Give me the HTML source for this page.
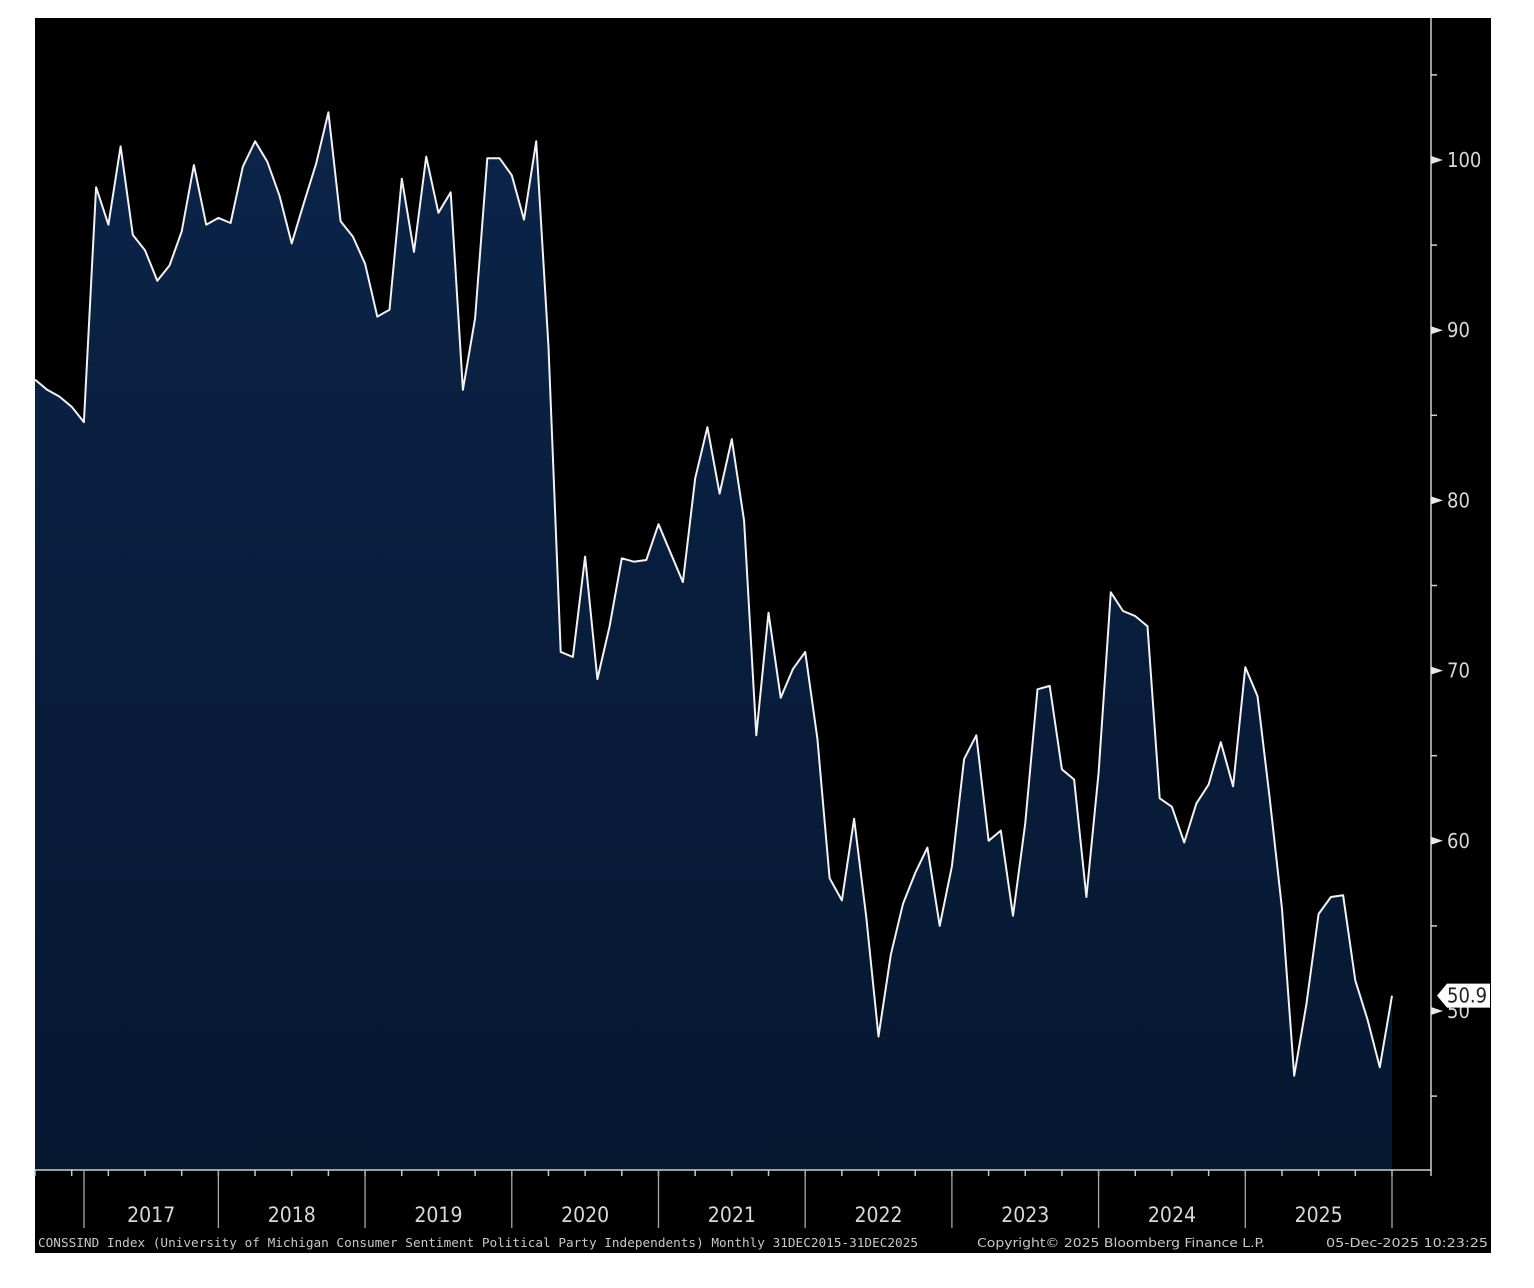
<!DOCTYPE html>
<html><head><meta charset="utf-8"><style>
html,body{margin:0;padding:0;background:#fff;width:1534px;height:1288px;overflow:hidden}
svg{display:block}
text{font-family:"DejaVu Sans Condensed","Liberation Sans",sans-serif}
</style></head><body>
<svg id="chart" width="1534" height="1288" viewBox="0 0 1534 1288">
<defs><linearGradient id="fillg" x1="0" y1="0" x2="0" y2="1"><stop offset="0" stop-color="#0b2448"/><stop offset="1" stop-color="#061730"/></linearGradient></defs>
<rect x="35" y="18" width="1456" height="1235" fill="#000"/>
<g id="plot"></g>
<text x="38" y="1247" font-size="12.5" fill="#c8c8c8" style="font-family:'DejaVu Sans Mono','Liberation Mono',monospace" textLength="880" lengthAdjust="spacingAndGlyphs">CONSSIND Index (University of Michigan Consumer Sentiment Political Party Independents) Monthly 31DEC2015-31DEC2025</text>
<text x="977" y="1247" font-size="12.5" fill="#c8c8c8" textLength="288" lengthAdjust="spacingAndGlyphs">Copyright© 2025 Bloomberg Finance L.P.</text>
<text x="1326" y="1247" font-size="12.5" fill="#c8c8c8" textLength="162" lengthAdjust="spacingAndGlyphs">05-Dec-2025 10:23:25</text>
</svg>
<script>
// monthly values, Sep 2016 .. Dec 2025
const values = [87.1,86.5,86.1,85.5,84.6,98.4,96.2,100.8,95.6,94.7,92.9,93.8,95.8,99.7,96.2,96.6,96.3,99.6,101.1,99.9,97.9,95.1,97.5,99.8,102.8,96.4,95.5,93.9,90.8,91.2,98.9,94.6,100.2,96.9,98.1,86.5,90.7,100.1,100.1,99.1,96.5,101.1,89.0,71.1,70.8,76.7,69.5,72.6,76.6,76.4,76.5,78.6,76.9,75.2,81.3,84.3,80.4,83.6,78.8,66.2,73.4,68.4,70.1,71.1,66.0,57.8,56.5,61.3,55.5,48.5,53.3,56.3,58.1,59.6,55.0,58.5,64.8,66.2,60.0,60.6,55.6,61.0,68.9,69.1,64.2,63.6,56.7,64.0,74.6,73.5,73.2,72.6,62.5,62.0,59.9,62.2,63.3,65.8,63.2,70.2,68.5,62.5,56.0,46.2,50.4,55.7,56.7,56.8,51.8,49.5,46.7,50.9];
const yMajorTicks = [100,90,80,70,60,50];
const yMinorTicks = [105,95,85,75,65,55,45];
const yearLabels = ["2017","2018","2019","2020","2021","2022","2023","2024","2025"];
const firstDecIndex = 15; // Dec 2017 index within values

const X0=35, X1=1392, AXISX=1431, AXISY=1170;
const DX=(X1-X0)/(values.length-1);
function xScale(i){return X0+i*DX;}
function yScale(v){return 160+(100-v)*17.02;}

const NS="http://www.w3.org/2000/svg";
const g=document.getElementById('plot');
function mk(tag,attrs){const e=document.createElementNS(NS,tag);for(const k in attrs)e.setAttribute(k,attrs[k]);g.appendChild(e);return e;}

let d="M"+xScale(0)+","+AXISY;
values.forEach((v,i)=>{d+=" L"+xScale(i).toFixed(1)+","+yScale(v).toFixed(1);});
d+=" L"+xScale(values.length-1)+","+AXISY+" Z";
const area=mk('path',{d:d,fill:"url(#fillg)"});


const line=mk('polyline',{points:values.map((v,i)=>xScale(i).toFixed(1)+","+yScale(v).toFixed(1)).join(" "),fill:"none",stroke:"#f2f2f2","stroke-width":"2","stroke-linejoin":"round"});



const ya=mk('line',{x1:AXISX,y1:18,x2:AXISX,y2:AXISY+1,stroke:"#d0d0d0","stroke-width":"1.5"});


const xa=mk('line',{x1:35,y1:AXISY,x2:AXISX,y2:AXISY,stroke:"#d0d0d0","stroke-width":"1.5"});



yMajorTicks.forEach(v=>{
  const y=yScale(v);
  const t=mk('path',{d:`M${AXISX},${y-4} L${AXISX+12},${y} L${AXISX},${y+4} Z`,fill:"#e8e8e8"});
  
  
  const l=mk('text',{x:AXISX+16,y:y+7,"font-size":"20",fill:"#d8d8d8"});
  l.textContent=v;
  
  
});
yMinorTicks.forEach(v=>{
  const y=yScale(v);
  const t=mk('line',{x1:AXISX,y1:y,x2:AXISX+6,y2:y,stroke:"#d0d0d0","stroke-width":"1.5"});
  
  
});
// quarterly ticks
for(let i=firstDecIndex%3;i<values.length;i+=3){
  const x=xScale(i);
  const t=mk('line',{x1:x,y1:AXISY,x2:x,y2:AXISY+6,stroke:"#c8c8c8","stroke-width":"1.5"});
  
  
}
const endTick=mk('line',{x1:AXISX,y1:AXISY,x2:AXISX,y2:AXISY+6,stroke:"#c8c8c8","stroke-width":"1.5"});


// year dividers
const dividers=[84];
for(let k=0;k<yearLabels.length;k++) dividers.push(xScale(firstDecIndex+k*12));
dividers.forEach(x=>{
  const t=mk('line',{x1:x,y1:AXISY,x2:x,y2:1228,stroke:"#a8a8a8","stroke-width":"1.3"});
  
  
});
yearLabels.forEach((lab,k)=>{
  const xm=(dividers[k]+dividers[k+1])/2;
  const l=mk('text',{x:xm,y:1222,"font-size":"21","text-anchor":"middle",fill:"#d8d8d8"});
  l.textContent=lab;
  
  
});
const last=values[values.length-1], ly=yScale(last);
const cb=mk('path',{d:`M${AXISX+6},${ly} L${AXISX+16},${ly-12} L1490,${ly-12} L1490,${ly+12} L${AXISX+16},${ly+12} Z`,fill:"#fff"});


const ct=mk('text',{x:AXISX+16,y:ly+7,"font-size":"20",fill:"#222"});
ct.textContent=last.toFixed(1);


</script>
</body></html>
